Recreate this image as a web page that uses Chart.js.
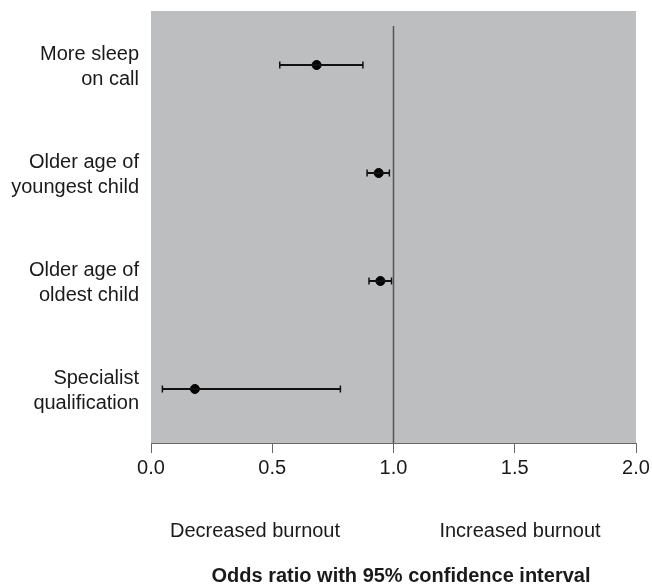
<!DOCTYPE html>
<html>
<head>
<meta charset="utf-8">
<script src="https://cdn.jsdelivr.net/npm/chart.js@4.4.1/dist/chart.umd.min.js"></script>
<style>
  html, body { margin: 0; padding: 0; background: #fff; }
  canvas { display: block; }
</style>
</head>
<body>
<canvas id="forestChart" width="652" height="588"></canvas>
<script>
// odds ratios with 95% CI, one row per factor (top to bottom)
const factors = [
  ['More sleep', 'on call'],
  ['Older age of', 'youngest child'],
  ['Older age of', 'oldest child'],
  ['Specialist', 'qualification']
];
const oddsRatio = [0.683, 0.939, 0.946, 0.181];
const ciLow = [0.531, 0.891, 0.899, 0.047];
const ciHigh = [0.874, 0.983, 0.992, 0.781];
const xTicks = [0, 0.5, 1, 1.5, 2];
const refLineX = 1;

const FONT = "'Liberation Sans', Arial, sans-serif";
const TEXT = '#1a1a1a';

// one little line per CI, caps come from rotated 'line' points
const ciSets = factors.map((f, i) => ({
  type: 'line',
  data: [{ x: ciLow[i], y: i + 1 }, { x: ciHigh[i], y: i + 1 }],
  borderColor: '#111',
  borderWidth: 2,
  pointStyle: 'line',
  pointRotation: 90,
  pointRadius: 3.5,
  pointBorderWidth: 1.5,
  pointBorderColor: '#111',
  pointHoverRadius: 3.5
}));

// gray plot background + the labels under the axis
const extras = {
  id: 'extras',
  beforeDraw(chart) {
    const { ctx, chartArea: a } = chart;
    ctx.save();
    ctx.fillStyle = '#bdbec0';
    ctx.fillRect(a.left, a.top, a.right - a.left, a.bottom - a.top);
    ctx.restore();
  },
  afterDraw(chart) {
    const { ctx } = chart;
    ctx.save();
    ctx.fillStyle = TEXT;
    ctx.textBaseline = 'middle';
    ctx.textAlign = 'center';
    ctx.font = '20px ' + FONT;
    ctx.fillText('Decreased burnout', 255, 531);
    ctx.fillText('Increased burnout', 520, 531);
    ctx.font = 'bold 20px ' + FONT;
    ctx.fillText('Odds ratio with 95% confidence interval', 401, 576);
    ctx.restore();
  }
};

new Chart(document.getElementById('forestChart'), {
  type: 'scatter',
  data: {
    datasets: [
      {
        type: 'line',
        data: [{ x: refLineX, y: 0.64 }, { x: refLineX, y: 4.5 }],
        borderColor: '#555',
        borderWidth: 1.5,
        pointRadius: 0
      },
      ...ciSets,
      {
        data: oddsRatio.map((v, i) => ({ x: v, y: i + 1 })),
        backgroundColor: '#000',
        borderColor: '#000',
        pointRadius: 4.5,
        pointHoverRadius: 4.5
      }
    ]
  },
  options: {
    responsive: false,
    animation: false,
    events: [],
    layout: { padding: { top: 11, right: 16, left: 0, bottom: 0 } },
    plugins: { legend: { display: false }, tooltip: { enabled: false } },
    scales: {
      x: {
        type: 'linear',
        min: 0,
        max: 2,
        afterBuildTicks(scale) { scale.ticks = xTicks.map(v => ({ value: v })); },
        afterFit(scale) {
          scale.height = 145;
          scale.paddingLeft = 0;
          scale.paddingRight = 0;
        },
        grid: {
          drawOnChartArea: false,
          drawTicks: true,
          tickLength: 10,
          color: '#666',
          lineWidth: 1
        },
        border: { display: true, color: '#666', width: 1 },
        ticks: {
          color: TEXT,
          padding: 3,
          font: { family: FONT, size: 20 },
          callback: v => v.toFixed(1)
        }
      },
      y: {
        type: 'linear',
        min: 0.5,
        max: 4.5,
        reverse: true,
        afterBuildTicks(scale) { scale.ticks = factors.map((f, i) => ({ value: i + 1 })); },
        afterFit(scale) {
          scale.width = 151;
          scale.paddingTop = 0;
          scale.paddingBottom = 0;
        },
        grid: { display: false, drawTicks: false },
        border: { display: false },
        ticks: {
          color: TEXT,
          padding: 12,
          labelOffset: 2,
          font: { family: FONT, size: 20, lineHeight: 1.25 },
          callback: v => factors[v - 1]
        }
      }
    }
  },
  plugins: [extras]
});
</script>
</body>
</html>
